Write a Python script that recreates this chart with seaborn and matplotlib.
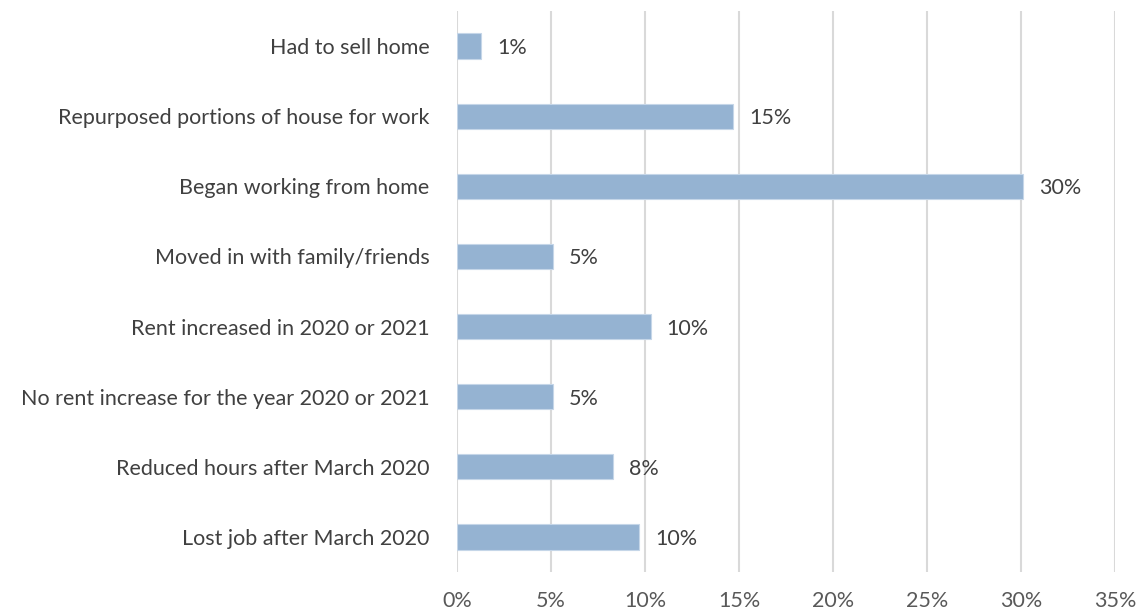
import matplotlib
matplotlib.use("Agg")
import matplotlib.pyplot as plt
import seaborn as sns
import pandas as pd
from matplotlib.ticker import FuncFormatter

categories = [
    "Had to sell home",
    "Repurposed portions of house for work",
    "Began working from home",
    "Moved in with family/friends",
    "Rent increased in 2020 or 2021",
    "No rent increase for the year 2020 or 2021",
    "Reduced hours after March 2020",
    "Lost job after March 2020",
]
values = [1.3, 14.7, 30.1, 5.1, 10.3, 5.1, 8.3, 9.7]
labels = ["1%", "15%", "30%", "5%", "10%", "5%", "8%", "10%"]
xticks = [0, 5, 10, 15, 20, 25, 30, 35]

sns.set_theme(style="white")
plt.rcParams["font.family"] = ["Lato", "DejaVu Sans"]

df = pd.DataFrame({"category": categories, "value": values})

fig = plt.figure(figsize=(11.42, 6.14), dpi=100)
ax = fig.add_axes([0.4002, 0.0684, 0.9764 - 0.4002, 0.982 - 0.0684])

sns.barplot(data=df, x="value", y="category", orient="h", color="#95b3d2",
            saturation=1, width=0.36, edgecolor="#c5d6e8", linewidth=0.8, ax=ax, zorder=3)

ax.set_xlim(0, 35)
ax.set_ylim(7.5, -0.5)
ax.set_xticks(xticks)
ax.xaxis.set_major_formatter(FuncFormatter(lambda v, p: f"{int(v)}%"))
ax.grid(axis="x", color="#d9d9d9", linewidth=1.5, zorder=0)
ax.grid(axis="y", visible=False)
for s in ax.spines.values():
    s.set_visible(False)
ax.set_xlabel("")
ax.set_ylabel("")
ax.tick_params(axis="x", length=0, pad=14, labelsize=15.5, labelcolor="#595959")
ax.tick_params(axis="y", length=0, pad=20, labelsize=15.5, labelcolor="#404040")

for i, (v, lab) in enumerate(zip(values, labels)):
    ax.annotate(lab, xy=(v, i), xytext=(16, -2), textcoords="offset pixels",
                va="center", ha="left", fontsize=15.5, color="#404040")

fig.savefig("out.png", dpi=100)
